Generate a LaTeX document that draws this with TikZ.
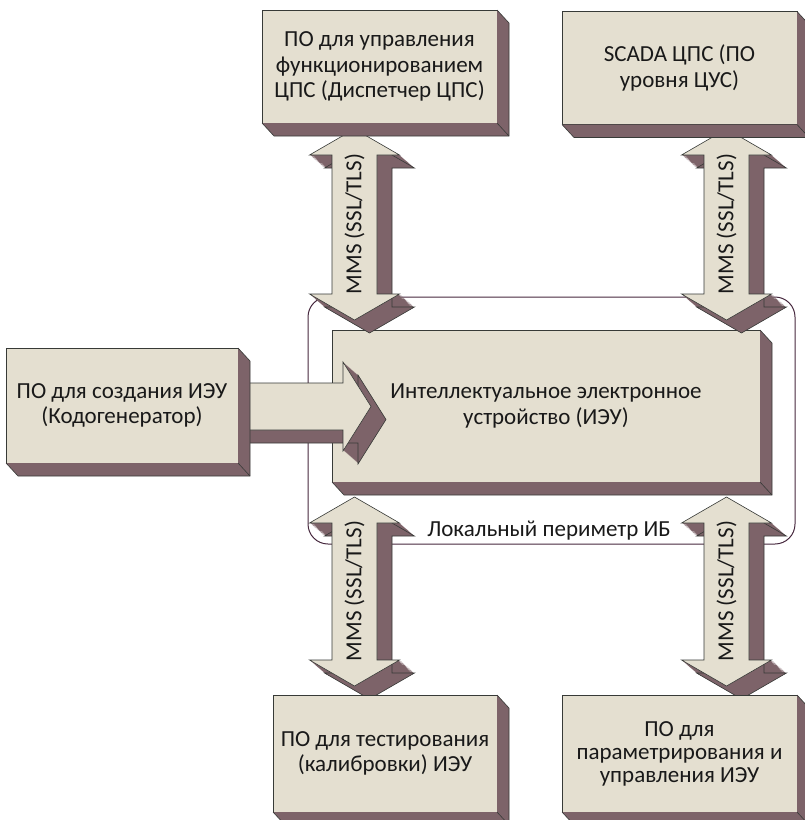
\documentclass[tikz,border=0pt]{standalone}
\usepackage{fontspec}
\setmainfont{Carlito}
\usetikzlibrary{calc}
\definecolor{slabface}{RGB}{228,223,208}
\definecolor{slabside}{RGB}{125,99,105}
\definecolor{slabedge}{RGB}{55,58,55}
\definecolor{zoneline}{RGB}{70,40,62}

% right and bottom faces of a slab node
\newcommand{\slabdepth}[1]{%
  \fill[slabside] (#1.north east) -- ++(12,13) -- ($(#1.south east)+(12,13)$)
    -- ($(#1.south west)+(12,13)$) -- (#1.south west) -- (#1.south east) -- cycle;
  \draw[edgeline] (#1.north east) -- ++(12,13) -- ($(#1.south east)+(12,13)$)
    -- ($(#1.south west)+(12,13)$) -- (#1.south west);
  \draw[edgeline] (#1.south east) -- ++(12,13);
}
% vertical double block arrow: axis x, top tip y, bottom tip y
\newcommand{\linkarrow}[3]{%
  \foreach \k in {1,...,15}
    \fill[slabside, shift={(\k,0.87*\k)}] (#1,#2) -- ++(45,26) -- ++(-22.5,0)
      -- (#1+22.5,#3-26) -- ++(22.5,0) -- (#1,#3) -- ++(-45,-26) -- ++(22.5,0)
      -- (#1-22.5,#2+26) -- ++(-22.5,0) -- cycle;
  \draw[edgeline, shift={(15,13)}] (#1,#2) -- ++(45,26) -- ++(-22.5,0)
      -- (#1+22.5,#3-26) -- ++(22.5,0) -- (#1,#3) -- ++(-45,-26) -- ++(22.5,0)
      -- (#1-22.5,#2+26) -- ++(-22.5,0) -- cycle;
  \filldraw[fill=slabface, edgeline] (#1,#2) -- ++(45,26) -- ++(-22.5,0)
      -- (#1+22.5,#3-26) -- ++(22.5,0) -- (#1,#3) -- ++(-45,-26) -- ++(22.5,0)
      -- (#1-22.5,#2+26) -- ++(-22.5,0) -- cycle;
}

\begin{document}
\begin{tikzpicture}[
    x=1pt, y=-1pt,
    every node/.style={font=\fontsize{23}{25.5}\selectfont, text=black!90},
    edgeline/.style={draw=slabedge, line width=0.6pt},
    slab/.style={rectangle, fill=slabface, edgeline, inner sep=0pt, outer sep=0pt, align=center},
    topslab/.style={slab, minimum width=235, minimum height=113},
    lowslab/.style={slab, minimum height=117},
    proto/.style={rotate=90, inner sep=0pt},
    zone/.style={rectangle, draw=zoneline, line width=1pt, rounded corners=20pt, minimum width=487, minimum height=247, inner sep=0pt}
]
\useasboundingbox (0,0) rectangle (805,820);
\clip (0,0) rectangle (805,820);

% local security perimeter
\node[zone] (zone) at (551.5,420.5) {};

% device
\node[slab, minimum width=428, minimum height=152] (ied) at (546,406) {Интеллектуальное электронное\\устройство (ИЭУ)};
\slabdepth{ied}

% MMS links
\linkarrow{354.5}{129}{320}
\linkarrow{726.5}{129}{320}
\linkarrow{354.5}{497}{686}
\linkarrow{726.5}{497}{686}
\node[proto] (mms1) at (354.5,224) {MMS (SSL/TLS)};
\node[proto] (mms2) at (726.5,224) {MMS (SSL/TLS)};
\node[proto] (mms3) at (354.5,591) {MMS (SSL/TLS)};
\node[proto] (mms4) at (726.5,591) {MMS (SSL/TLS)};

% code generator feed
\foreach \k in {1,...,15}
  \fill[slabside, shift={(\k,0.87*\k)}] (230,383) -- (343,383) -- (343,362) -- (371,406.5)
    -- (343,451) -- (343,430) -- (230,430) -- cycle;
\draw[edgeline, shift={(15,13)}] (230,383) -- (343,383) -- (343,362) -- (371,406.5)
    -- (343,451) -- (343,430) -- (230,430) -- cycle;
\filldraw[fill=slabface, edgeline] (230,383) -- (343,383) -- (343,362) -- (371,406.5)
    -- (343,451) -- (343,430) -- (230,430) -- cycle;

% software slabs
\node[topslab] (disp) at (379.5,66.5) {ПО для управления\\функционированием\\ЦПС (Диспетчер ЦПС)};
\slabdepth{disp}
\node[topslab] (scada) at (679.5,68) {SCADA ЦПС (ПО\\уровня ЦУС)};
\slabdepth{scada}
\node[slab, minimum width=232, minimum height=115] (coder) at (122,405.5) {ПО для создания ИЭУ\\(Кодогенератор)};
\slabdepth{coder}
\node[lowslab, minimum width=224] (test) at (385,753.5) {ПО для тестирования\\(калибровки) ИЭУ};
\slabdepth{test}
\node[lowslab, minimum width=235, font=\fontsize{23}{23}\selectfont] (param) at (679.5,753.5) {ПО для\\параметрирования и\\управления ИЭУ};
\slabdepth{param}

\node (zonelbl) at (549,531) {Локальный периметр ИБ};
\end{tikzpicture}
\end{document}
